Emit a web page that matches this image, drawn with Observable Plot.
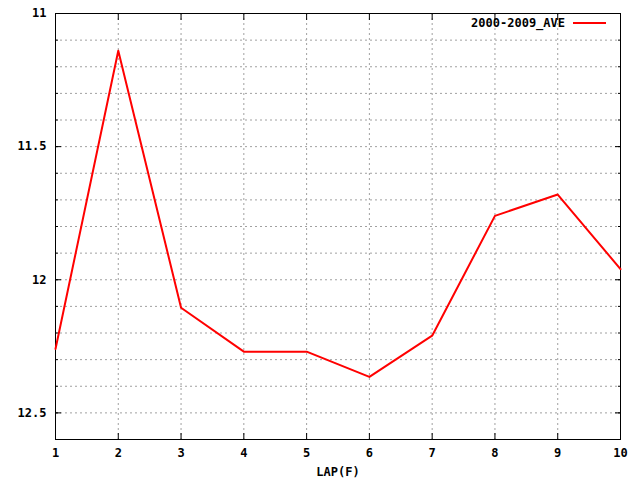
<!DOCTYPE html>
<html><head><meta charset="utf-8">
<script src="https://cdn.jsdelivr.net/npm/d3@7"></script>
<script src="https://cdn.jsdelivr.net/npm/@observablehq/plot@0.6"></script>
<style>body{margin:0;background:#fff}</style>
</head><body><div id="chart"></div>
<script>
const laps = [1,2,3,4,5,6,7,8,9,10];
const ave = [12.26,11.14,12.105,12.27,12.27,12.365,12.21,11.76,11.68,11.96];
const seriesName = "2000-2009_AVE";
const yMajor = [11,11.5,12,12.5];
const yMinor = [11,11.1,11.2,11.3,11.4,11.5,11.6,11.7,11.8,11.9,12,12.1,12.2,12.3,12.4,12.5,12.6];
const xTicks = laps;
const data = laps.map((l,i)=>({lap:l, t:ave[i]}));
const font = "'DejaVu Sans Mono', monospace";
const plot = Plot.plot({
  width:640, height:480,
  marginLeft:55, marginRight:20, marginTop:13, marginBottom:41,
  style:{fontFamily:font, fontSize:"12px", fontWeight:"bold", background:"#fff", color:"#000"},
  x:{domain:[1,10]},
  y:{domain:[11,12.6], reverse:true},
  marks:[
    Plot.ruleY(yMinor.slice(1,-1), {stroke:"#a0a0a0", strokeDasharray:"2,3", strokeWidth:1}),
    Plot.ruleX(xTicks.slice(1,-1), {stroke:"#a0a0a0", strokeDasharray:"2,3", strokeWidth:1}),
    Plot.axisY({anchor:"left", ticks:yMinor, tickSize:-3, tickFormat:()=>"", label:null, strokeOpacity:1}),
    Plot.axisY({anchor:"right", ticks:yMinor, tickSize:-3, tickFormat:()=>"", label:null, strokeOpacity:1}),
    Plot.axisY({anchor:"left", ticks:yMajor, tickSize:-6, tickFormat:()=>"", label:null, strokeOpacity:1}),
    Plot.axisY({anchor:"right", ticks:yMajor, tickSize:-6, tickFormat:()=>"", label:null, strokeOpacity:1}),
    Plot.axisY({anchor:"left", ticks:yMajor, tickSize:0, tickPadding:9, tickFormat:d=>String(d), label:null}),
    Plot.axisX({anchor:"bottom", ticks:xTicks, tickSize:-6, tickFormat:()=>"", label:null, strokeOpacity:1}),
    Plot.axisX({anchor:"top", ticks:xTicks, tickSize:-6, tickFormat:()=>"", label:null, strokeOpacity:1}),
    Plot.axisX({anchor:"bottom", ticks:xTicks, tickSize:0, tickPadding:9, tickFormat:d=>String(d), label:"LAP(F)", labelAnchor:"center", labelArrow:"none", labelOffset:36}),
    Plot.frame({stroke:"#000", strokeWidth:1}),
    Plot.line(data, {x:"lap", y:"t", stroke:"#ff0000", strokeWidth:2}),
  ]
});
document.getElementById("chart").appendChild(plot);
const svg = d3.select(plot);
const g = svg.append("g");
g.append("text").attr("x",565).attr("y",27).attr("text-anchor","end")
  .attr("font-family",font).attr("font-size","12px").attr("font-weight","bold").text(seriesName);
g.append("line").attr("x1",573).attr("x2",606).attr("y1",23).attr("y2",23)
  .attr("stroke","#ff0000").attr("stroke-width",2);
</script>
</body></html>
